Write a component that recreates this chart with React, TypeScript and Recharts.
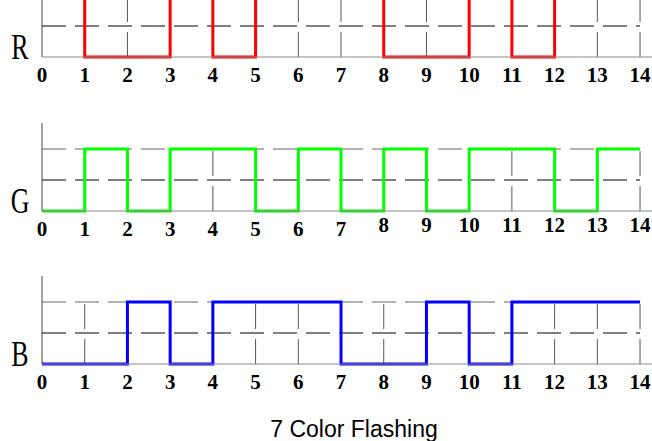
import React from "react";
import { LineChart, Line, XAxis, YAxis, ReferenceLine } from "recharts";

// time steps (s) and on/off level of each channel, value holds until next step
const seconds = [0, 1, 2, 3, 4, 5, 6, 7, 8, 9, 10, 11, 12, 13, 14];
const redLevels = [1, 0, 0, 1, 0, 1, 1, 1, 0, 0, 1, 0, 1, 1, 1];
const greenLevels = [0, 1, 0, 1, 1, 0, 1, 0, 1, 0, 1, 1, 0, 1, 1];
const blueLevels = [0, 0, 1, 0, 1, 1, 1, 0, 0, 1, 0, 1, 1, 1, 1];
const gridSeconds = [1, 2, 3, 4, 5, 6, 7, 8, 9, 10, 11, 12, 13, 14];
const title = "7 Color Flashing";

const W = 652;
const H = 441;
const PANEL_H = 118;
const X_MAX = 14.28;
const Y_MAX = 1.42;

const channels = [
  { name: "R", levels: redLevels, color: "#ff0000", top: -31, lift: false },
  { name: "G", levels: greenLevels, color: "#00ff00", top: 123, lift: true },
  { name: "B", levels: blueLevels, color: "#0000ff", top: 276, lift: false },
];

function DigitTick(props: any) {
  const { x, y, payload, lift } = props;
  const raise = lift && payload.value >= 8 ? 4 : 0;
  return (
    <text
      x={x}
      y={y + 25 - raise}
      textAnchor="middle"
      fontFamily="Liberation Serif"
      fontWeight="bold"
      fontSize={21}
      fill="#000"
    >
      {payload.value}
    </text>
  );
}

function Panel({ name, levels, color, top, lift }: any) {
  const data = seconds.map((t, i) => ({ t, level: levels[i] }));
  return (
    <div style={{ position: "absolute", left: 0, top, width: W, height: PANEL_H }}>
      <LineChart
        width={W}
        height={PANEL_H}
        data={data}
        margin={{ top: 0, right: 0, bottom: 0, left: 42 }}
      >
        <XAxis
          dataKey="t"
          type="number"
          domain={[0, X_MAX]}
          ticks={seconds}
          interval={0}
          height={30}
          tickLine={false}
          tickSize={0}
          tickMargin={0}
          axisLine={{ stroke: "#8a8a8a" }}
          tick={(p: any) => <DigitTick {...p} lift={lift} />}
        />
        <YAxis hide domain={[0, Y_MAX]} />
        <ReferenceLine x={0} stroke="#444" />
        {gridSeconds.map((s) => (
          <ReferenceLine
            key={s}
            segment={[
              { x: s, y: 0 },
              { x: s, y: 1 },
            ]}
            stroke="#555"
            strokeDasharray="25 10"
          />
        ))}
        <ReferenceLine
          segment={[
            { x: 0, y: 0.5 },
            { x: 14, y: 0.5 },
          ]}
          stroke="#000"
          strokeDasharray="24 9"
        />
        <ReferenceLine
          segment={[
            { x: 0, y: 1 },
            { x: 14, y: 1 },
          ]}
          stroke="#666"
          strokeDasharray="24 9"
        />
        <Line
          dataKey="level"
          type="stepAfter"
          stroke={color}
          strokeWidth={3}
          dot={false}
          isAnimationActive={false}
        />
      </LineChart>
      <svg
        width={40}
        height={PANEL_H}
        style={{ position: "absolute", left: 0, top: 0 }}
      >
        <text
          x={20}
          y={90}
          textAnchor="middle"
          fontFamily="Liberation Serif"
          fontSize={36}
          fill="#000"
          transform="translate(20 0) scale(0.72 1) translate(-20 0)"
        >
          {name}
        </text>
      </svg>
    </div>
  );
}

export default function App() {
  return (
    <div
      style={{
        position: "fixed",
        left: 0,
        top: 0,
        width: W,
        height: H,
        overflow: "hidden",
        background: "#fff",
      }}
    >
      {channels.map((c) => (
        <Panel key={c.name} {...c} />
      ))}
      <svg width={W} height={H} style={{ position: "absolute", left: 0, top: 0, pointerEvents: "none" }}>
        <text
          x={354}
          y={437}
          textAnchor="middle"
          fontFamily="Liberation Sans"
          fontSize={23}
          fill="#000"
        >
          {title}
        </text>
      </svg>
    </div>
  );
}
